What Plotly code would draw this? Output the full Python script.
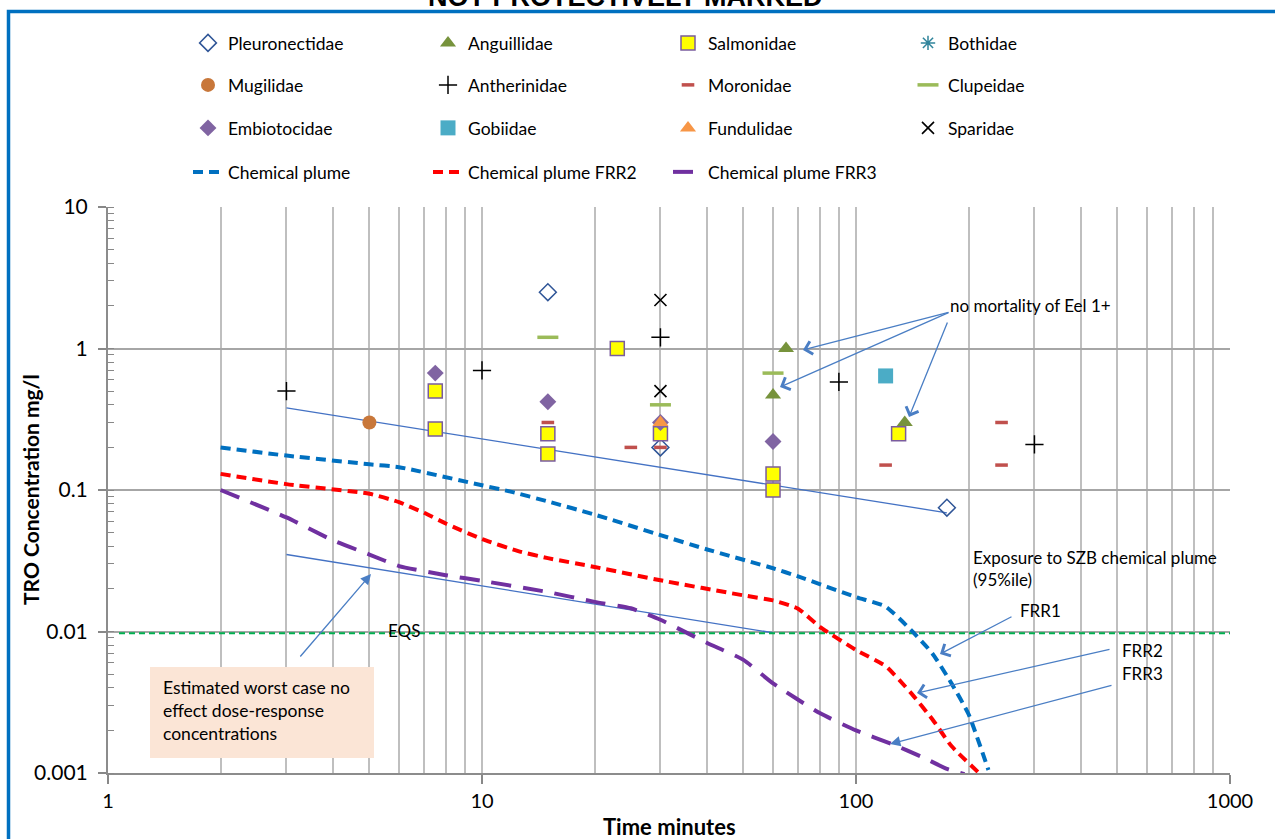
import numpy as np
import plotly.graph_objects as go

# ---------------- data ----------------
pleuro_x = [15, 30, 175]
pleuro_y = [2.5, 0.2, 0.075]
angui_x = [65, 60, 135]
angui_y = [1.0, 0.47, 0.30]
salmo_x = [7.5, 7.5, 15, 15, 23, 30, 60, 60, 130]
salmo_y = [0.5, 0.27, 0.25, 0.18, 1.0, 0.25, 0.13, 0.10, 0.25]
both_x = [None]
both_y = [None]
mugil_x = [5]
mugil_y = [0.30]
anther_x = [3, 10, 30, 90, 300]
anther_y = [0.5, 0.7, 1.2, 0.58, 0.21]
moron_x = [15, 25, 30, 120, 245, 245]
moron_y = [0.30, 0.20, 0.20, 0.15, 0.30, 0.15]
clupe_x = [15, 30, 60]
clupe_y = [1.2, 0.40, 0.67]
embio_x = [7.5, 15, 30, 60]
embio_y = [0.67, 0.42, 0.30, 0.22]
gobi_x = [120]
gobi_y = [0.64]
fundu_x = [30]
fundu_y = [0.30]
spari_x = [30, 30]
spari_y = [2.2, 0.50]

plume_x = [2, 3, 5, 6, 10, 12, 15, 20, 30, 40, 60, 70, 100, 120, 140, 160, 180, 200, 226]
plume_y = [0.20, 0.175, 0.152, 0.145, 0.108, 0.097, 0.083, 0.067, 0.048, 0.038, 0.028, 0.0245,
           0.0175, 0.015, 0.0103, 0.0070, 0.0043, 0.0026, 0.00105]
frr2_x = [2, 3, 5, 6, 7, 8, 10, 12.5, 15, 20, 30, 50, 60, 70, 80, 100, 120, 140, 160, 180, 215]
frr2_y = [0.13, 0.11, 0.094, 0.082, 0.069, 0.058, 0.045, 0.037, 0.033, 0.0286, 0.023, 0.018,
          0.0166, 0.0145, 0.0108, 0.0074, 0.0057, 0.0037, 0.0024, 0.00155, 0.00098]
frr3_x = [2, 3, 4, 5, 6, 8, 10, 15, 20, 25, 30, 40, 50, 60, 80, 100, 125, 150, 175, 195]
frr3_y = [0.10, 0.064, 0.044, 0.035, 0.029, 0.025, 0.0228, 0.019, 0.0162, 0.0146, 0.0121,
          0.0083, 0.0063, 0.0043, 0.00265, 0.0020, 0.0016, 0.0013, 0.00107, 0.00098]
eqs_x = [1.07, 1000]
eqs_y = [0.0097, 0.0097]
trend1_x = [3, 175]
trend1_y = [0.38, 0.069]
trend2_x = [3, 60]
trend2_y = [0.035, 0.0098]

x_ticks = [1, 10, 100, 1000]
x_ticktext = ["1", "10", "100", "1000"]
y_ticks = [0.001, 0.01, 0.1, 1, 10]
y_ticktext = ["0.001", "0.01", "0.1", "1", "10"]

FONT = "Lato"

fig = go.Figure()


def add_pts(name, xs, ys, symbol, color, size, legend, lw=0, lcolor=None):
    fig.add_trace(go.Scatter(
        x=xs, y=ys, mode="markers", name=name, legend=legend,
        marker=dict(symbol=symbol, color=color, size=size,
                    line=dict(width=lw, color=lcolor if lcolor else color))))


# thin trend lines first (underneath markers)
fig.add_trace(go.Scatter(x=trend1_x, y=trend1_y, mode="lines", showlegend=False,
                         line=dict(color="#4472C4", width=1.3)))
fig.add_trace(go.Scatter(x=trend2_x, y=trend2_y, mode="lines", showlegend=False,
                         line=dict(color="#4472C4", width=1.3)))
fig.add_trace(go.Scatter(x=eqs_x, y=eqs_y, mode="lines", showlegend=False,
                         line=dict(color="#00B050", width=2, dash="6px,4px")))

# row 1
add_pts("Pleuronectidae", pleuro_x, pleuro_y, "diamond-open", "#2F5597", 13, "legend", 1.5)
add_pts("Anguillidae", angui_x, angui_y, "triangle-up", "#77933C", 14, "legend")
add_pts("Salmonidae", salmo_x, salmo_y, "square", "#FFFF00", 14, "legend", 1.5, "#7A5C9E")
add_pts("Bothidae", both_x, both_y, "asterisk-open", "#31859C", 12, "legend", 1.5)
# row 2
add_pts("Mugilidae", mugil_x, mugil_y, "circle", "#C8773A", 14, "legend2")
add_pts("Antherinidae", anther_x, anther_y, "cross-thin-open", "#000000", 13, "legend2", 1.5)
add_pts("Moronidae", moron_x, moron_y, "line-ew-open", "#C0504D", 9, "legend2", 3.5)
add_pts("Clupeidae", clupe_x, clupe_y, "line-ew-open", "#9BBB59", 15, "legend2", 3.5)
# row 3
add_pts("Embiotocidae", embio_x, embio_y, "diamond", "#8064A2", 13, "legend3")
add_pts("Gobiidae", gobi_x, gobi_y, "square", "#4BACC6", 15, "legend3")
add_pts("Fundulidae", fundu_x, fundu_y, "triangle-up", "#F79646", 14, "legend3")
add_pts("Sparidae", spari_x, spari_y, "x-thin-open", "#000000", 12, "legend3", 1.6)

# row 4 lines
fig.add_trace(go.Scatter(x=plume_x, y=plume_y, mode="lines", name="Chemical plume", legend="legend4",
                         line=dict(color="#0070C0", width=4, dash="10px,6px", shape="spline", smoothing=0.5)))
fig.add_trace(go.Scatter(x=frr2_x, y=frr2_y, mode="lines", name="Chemical plume FRR2", legend="legend4",
                         line=dict(color="#FF0000", width=4, dash="10px,6px", shape="spline", smoothing=0.5)))
fig.add_trace(go.Scatter(x=frr3_x, y=frr3_y, mode="lines", name="Chemical plume FRR3", legend="legend4",
                         line=dict(color="#7030A0", width=4, dash="20px,12px", shape="spline", smoothing=0.5)))

W, H = 1275, 839
L, R, T, B = 108, 1230, 207, 773
pw, ph = R - L, B - T


def px(xp):
    return (xp - L) / pw


def py(yp):
    return (B - yp) / ph


def lx(xp):
    return (xp - L) / 374.0


def ly(yp):
    return 1 - (yp - T) / 141.5


leg_common = dict(orientation="h", entrywidth=195, entrywidthmode="pixels",
                  xanchor="left", yanchor="middle", bgcolor="rgba(0,0,0,0)",
                  font=dict(family=FONT, size=17.5, color="#000"), itemsizing="trace")
legx = px(188)
layout_legends = {
    "legend": dict(x=legx, y=py(43), **leg_common),
    "legend2": dict(x=legx, y=py(85), **leg_common),
    "legend3": dict(x=legx, y=py(128), **leg_common),
    "legend4": dict(x=legx, y=py(172), **leg_common),
}

fig.update_layout(
    width=W, height=H,
    margin=dict(l=L, r=W - R, t=T, b=H - B),
    paper_bgcolor="white", plot_bgcolor="white",
    font=dict(family=FONT, color="#000"),
    showlegend=True,
    **layout_legends,
)

fig.update_xaxes(
    type="log", range=[0, 3], tickvals=x_ticks, ticktext=x_ticktext,
    ticks="outside", ticklen=9, tickwidth=1.5, tickcolor="#888",
    showline=True, linecolor="#8C8C8C", linewidth=2,
    showgrid=True, gridcolor="#BFBFBF", gridwidth=1.5,
    minor=dict(dtick="D1", showgrid=True, gridcolor="#BFBFBF", gridwidth=1.5, ticks=""),
    tickfont=dict(family=FONT, size=20, color="#000"), zeroline=False,
)
fig.update_yaxes(
    type="log", range=[-3, 1], tickvals=y_ticks, ticktext=y_ticktext,
    ticks="outside", ticklen=8, tickwidth=1.5, tickcolor="#888",
    showline=True, linecolor="#8C8C8C", linewidth=2,
    showgrid=True, gridcolor="#A6A6A6", gridwidth=2,
    minor=dict(dtick="D1", ticks="inside", ticklen=6, tickcolor="#888", tickwidth=1.2, showgrid=False),
    tickfont=dict(family=FONT, size=21, color="#000"), zeroline=False,
    ticklabelstandoff=6,
)

# frame and text box
fig.add_shape(type="rect", xref="paper", yref="paper",
              x0=px(8.5), x1=px(1290), y0=py(855), y1=py(11.5),
              line=dict(color="#0070C0", width=3.5), fillcolor="rgba(0,0,0,0)", layer="above")
fig.add_shape(type="rect", xref="paper", yref="paper",
              x0=px(150), x1=px(374), y0=py(758), y1=py(667),
              line=dict(width=0), fillcolor="#FBE5D6", layer="above")

ann = []
ann.append(dict(text="<b>NOT PROTECTIVELY MARKED</b>", xref="paper", yref="paper",
                x=px(625), y=py(-3), xanchor="center", yanchor="middle", showarrow=False,
                font=dict(family="Liberation Sans", size=27, color="#000")))
ann.append(dict(text="<b>Time minutes</b>", xref="paper", yref="paper", x=px(669), y=py(826),
                xanchor="center", yanchor="middle", showarrow=False,
                font=dict(family=FONT, size=22, color="#000")))
ann.append(dict(text="<b>TRO Concentration mg/l</b>", xref="paper", yref="paper", x=px(30), y=py(490),
                xanchor="center", yanchor="middle", showarrow=False, textangle=-90,
                font=dict(family=FONT, size=21, color="#000")))
ann.append(dict(text="Estimated worst case no<br>effect dose-response<br>concentrations",
                xref="paper", yref="paper", x=px(161), y=py(710), xanchor="left", yanchor="middle",
                align="left", showarrow=False, font=dict(family=FONT, size=17.5, color="#000")))

txt = dict(showarrow=False, font=dict(family=FONT, size=17, color="#000"), xanchor="left",
           yanchor="middle", align="left")
ann.append(dict(text="EQS", x=lx(386), y=ly(630), **txt))
ann.append(dict(text="no mortality of Eel 1+", x=lx(948), y=ly(305), **txt))
ann.append(dict(text="Exposure to SZB chemical plume<br>(95%ile)", x=lx(971), y=ly(568), **txt))
ann.append(dict(text="FRR1", x=lx(1018), y=ly(610), **txt))
ann.append(dict(text="FRR2", x=lx(1120), y=ly(650), **txt))
ann.append(dict(text="FRR3", x=lx(1120), y=ly(673), **txt))


def arrow(head, tail, style):
    ann.append(dict(x=lx(head[0]), y=ly(head[1]), ax=lx(tail[0]), ay=ly(tail[1]),
                    xref="x", yref="y", axref="x", ayref="y", text="", showarrow=True,
                    arrowhead=style, arrowsize=2.0 if style == 4 else 1.6, arrowwidth=1.3,
                    arrowcolor="#4A7EC4", standoff=0))


arrow((803, 350), (950, 312), 4)
arrow((780, 387), (950, 312), 4)
arrow((909, 417), (948, 321), 4)
arrow((371, 574), (299, 658), 2)
arrow((940, 654), (1013, 616), 4)
arrow((917, 693), (1111, 649), 4)
arrow((890, 744), (1113, 685), 2)

fig.update_layout(annotations=ann)

fig.write_html("out.html")
